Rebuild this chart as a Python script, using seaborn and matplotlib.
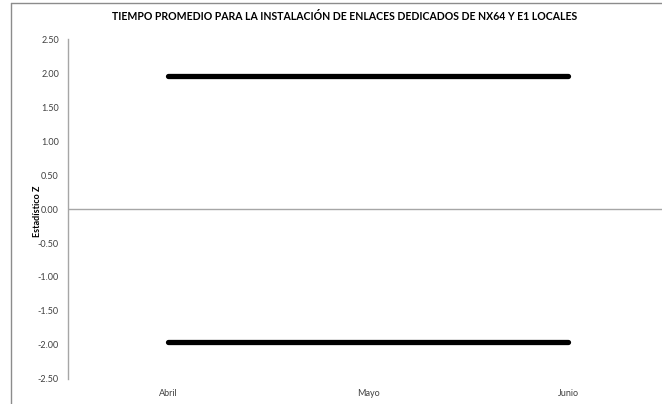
import pandas as pd
import seaborn as sns
import matplotlib.pyplot as plt
from matplotlib.lines import Line2D

# ---------- data ----------
meses = ["Abril", "Mayo", "Junio"]
limite_superior = [1.96, 1.96, 1.96]
limite_inferior = [-1.96, -1.96, -1.96]
y_ticks = [-2.5, -2.0, -1.5, -1.0, -0.5, 0.0, 0.5, 1.0, 1.5, 2.0, 2.5]

df = pd.DataFrame({
    "mes": meses * 2,
    "valor": limite_superior + limite_inferior,
    "serie": ["sup"] * 3 + ["inf"] * 3,
})

sns.set_style("white")
plt.rcParams["font.family"] = ["Lato", "DejaVu Sans"]

W, H = 662, 404
fig = plt.figure(figsize=(W / 100, H / 100), dpi=100)
ax = fig.add_axes([68 / W, 25 / H, 600 / W, 340 / H])

sns.lineplot(data=df, x="mes", y="valor", hue="serie", palette=["black", "black"],
             linewidth=3.8, legend=False, ax=ax, solid_capstyle="round")

ax.axhline(0, color="#a6a6a6", lw=1)
ax.set_xlim(-0.5, 2.5)
ax.set_ylim(-2.5, 2.5)
ax.set_yticks(y_ticks)
ax.set_yticklabels([f"{v:.2f}" for v in y_ticks])
ax.tick_params(axis="both", length=0, labelsize=6.5, labelcolor="#404040")
ax.tick_params(axis="y", pad=6.5)
ax.tick_params(axis="x", pad=7)

for s in ["top", "right", "bottom"]:
    ax.spines[s].set_visible(False)
ax.spines["left"].set_color("#a6a6a6")
ax.spines["left"].set_linewidth(1)

ax.set_xlabel("")
ax.set_ylabel("")
fig.text(37 / W, 1 - 211 / H, "Estadístico Z", rotation=90, ha="center", va="center",
         fontsize=6.5, fontweight="bold", color="black")

fig.text(345 / W, 1 - 17 / H,
         "TIEMPO PROMEDIO PARA LA INSTALACIÓN DE ENLACES DEDICADOS DE NX64 Y E1 LOCALES",
         ha="center", va="center", fontsize=7.6, fontweight="bold", color="black")

# chart area border (cut off at right / bottom)
fig.add_artist(Line2D([11 / W, 11 / W], [0, 1 - 3 / H], color="#8c8c8c", lw=1))
fig.add_artist(Line2D([11 / W, 1], [1 - 3 / H, 1 - 3 / H], color="#8c8c8c", lw=1))

fig.savefig("out.png", dpi=100)
